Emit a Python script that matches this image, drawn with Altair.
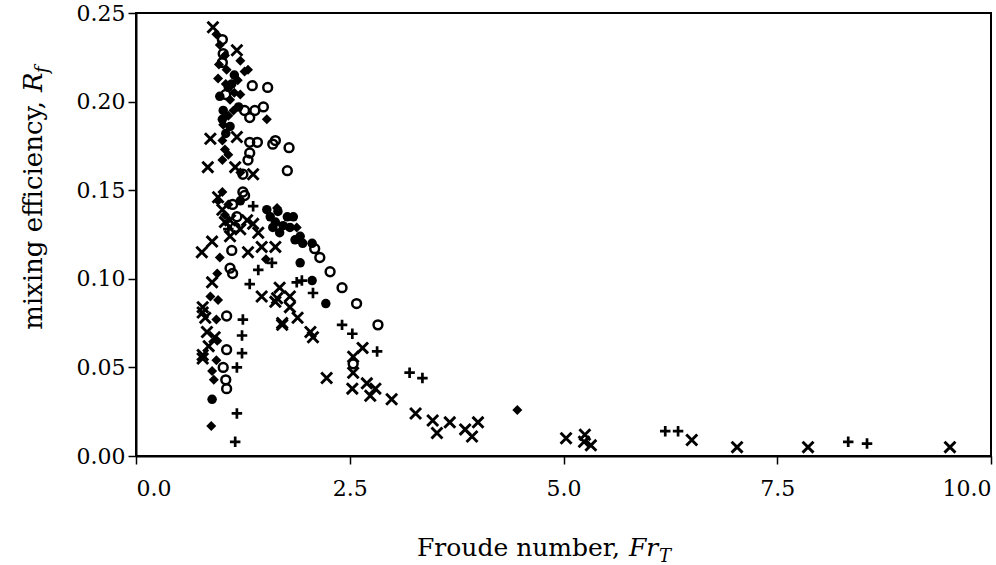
import altair as alt
import pandas as pd

# ---- data ----
cross_x = [0.90, 1.18, 0.87, 1.18, 0.84, 1.16, 1.37, 1.01, 0.96, 1.10, 1.30, 1.37, 1.43,
           0.89, 1.10, 0.77, 1.31, 1.47, 1.63, 0.89, 1.47, 1.63, 1.68, 0.78, 0.81, 1.80,
           1.89, 1.71, 0.83, 0.92, 0.78, 0.85, 0.78, 2.04, 2.07, 2.23, 2.65, 2.54, 2.54,
           2.53, 2.70, 2.80, 2.74, 2.99, 3.27, 3.47, 3.52, 3.67, 3.85, 3.93, 4.00, 5.03,
           5.25, 5.24, 5.32, 6.50, 7.03, 7.86, 9.52, 0.78, 1.04, 1.22, 1.65, 1.80, 1.71]
cross_y = [0.242, 0.229, 0.179, 0.180, 0.163, 0.163, 0.159, 0.139, 0.146, 0.133, 0.133, 0.131, 0.126,
           0.121, 0.124, 0.115, 0.115, 0.118, 0.118, 0.098, 0.090, 0.087, 0.095, 0.084, 0.078, 0.084,
           0.078, 0.074, 0.070, 0.067, 0.057, 0.062, 0.055, 0.070, 0.067, 0.044, 0.061, 0.056, 0.047,
           0.038, 0.041, 0.038, 0.034, 0.032, 0.024, 0.020, 0.013, 0.019, 0.015, 0.011, 0.019, 0.010,
           0.012, 0.008, 0.006, 0.009, 0.005, 0.005, 0.005, 0.081, 0.132, 0.128, 0.089, 0.090, 0.075]

plus_x = [1.37, 1.59, 1.43, 1.33, 1.25, 1.24, 1.24, 1.18, 1.18, 1.16, 1.88, 2.07, 2.41,
          2.53, 2.82, 3.20, 3.35, 6.19, 6.34, 8.33, 8.55, 1.08, 1.94]
plus_y = [0.141, 0.109, 0.105, 0.097, 0.077, 0.068, 0.058, 0.050, 0.024, 0.008, 0.098, 0.092, 0.074,
          0.069, 0.059, 0.047, 0.044, 0.014, 0.014, 0.008, 0.007, 0.128, 0.099]

ring_x = [1.36, 1.54, 1.49, 1.39, 1.27, 1.33, 1.33, 1.42, 1.63, 1.60, 1.79, 1.31, 1.77, 1.25,
          1.33, 1.25, 1.13, 1.18, 1.12, 1.10, 1.13, 1.06, 1.06, 1.02, 1.05, 1.06, 2.15, 2.27,
          2.41, 2.58, 2.83, 2.54, 2.09, 1.01, 1.02, 1.01, 1.05, 1.27, 1.16]
ring_y = [0.209, 0.208, 0.197, 0.195, 0.195, 0.191, 0.177, 0.177, 0.178, 0.176, 0.174, 0.167, 0.161, 0.159,
          0.171, 0.149, 0.142, 0.135, 0.116, 0.106, 0.103, 0.079, 0.060, 0.050, 0.043, 0.038, 0.112, 0.104,
          0.095, 0.086, 0.074, 0.052, 0.117, 0.235, 0.227, 0.222, 0.204, 0.147, 0.129]

dot_x = [1.92, 2.22, 2.06, 1.02, 1.01, 0.98, 1.08, 1.15, 1.57, 1.60, 1.68, 1.77, 1.84, 1.92,
         1.95, 2.06, 1.63, 1.72, 1.53, 1.80, 1.86, 1.66, 0.89, 1.22, 1.12, 1.05, 1.10, 1.20]
dot_y = [0.109, 0.086, 0.099, 0.195, 0.190, 0.203, 0.208, 0.215, 0.135, 0.129, 0.126, 0.135, 0.135, 0.124,
         0.120, 0.120, 0.132, 0.130, 0.139, 0.129, 0.122, 0.138, 0.032, 0.144, 0.210, 0.182, 0.186, 0.197]

diam_x = [0.94, 0.98, 1.04, 0.97, 1.06, 1.22, 1.27, 1.19, 1.10, 1.22, 1.08, 1.02, 1.01, 1.04,
          1.01, 1.08, 1.53, 1.22, 0.96, 1.31, 1.01, 0.96, 1.65, 1.88, 0.98, 0.95, 0.87, 0.96,
          0.94, 0.95, 0.94, 0.89, 0.91, 0.88, 4.46, 1.04, 1.52, 1.08, 1.15, 1.05, 1.14]
diam_y = [0.238, 0.232, 0.226, 0.221, 0.218, 0.223, 0.217, 0.212, 0.201, 0.204, 0.192, 0.187, 0.178, 0.173,
          0.167, 0.170, 0.190, 0.160, 0.213, 0.218, 0.149, 0.144, 0.140, 0.129, 0.112, 0.103, 0.090, 0.088,
          0.077, 0.065, 0.054, 0.048, 0.043, 0.017, 0.026, 0.136, 0.111, 0.142, 0.205, 0.210, 0.195]

x_ticks = [0.0, 2.5, 5.0, 7.5, 10.0]
y_ticks = [0.00, 0.05, 0.10, 0.15, 0.20, 0.25]

FONT = "DejaVu Serif"
W, H = 855, 443

xs = alt.Scale(domain=[0, 10], nice=False)
ys = alt.Scale(domain=[0, 0.25], nice=False)

xaxis = alt.Axis(values=x_ticks, format=".1f", title=None, grid=False, labelPadding=14)
yaxis = alt.Axis(values=y_ticks, format=".2f", title=None, grid=False, labelPadding=3)


def layer(xv, yv, **mark):
    df = pd.DataFrame({"x": xv, "y": yv})
    return alt.Chart(df).mark_point(opacity=1, **mark).encode(
        x=alt.X("x:Q", scale=xs, axis=xaxis),
        y=alt.Y("y:Q", scale=ys, axis=yaxis),
    )


crosses = layer(cross_x, cross_y, shape="M-1,-1L1,1M-1,1L1,-1", filled=False,
                stroke="black", strokeWidth=2.9, size=120)
pluses = layer(plus_x, plus_y, shape="M-1,0L1,0M0,-1L0,1", filled=False,
               stroke="black", strokeWidth=2.7, size=110)
rings = layer(ring_x, ring_y, shape="circle", filled=False,
              stroke="black", strokeWidth=2.5, size=78)
dots = layer(dot_x, dot_y, shape="circle", filled=True, fill="black", size=90)
diams = layer(diam_x, diam_y, shape="diamond", filled=True, fill="black", size=100)


def label(txt, x, y, size=25, style="normal", angle=0, align="left", baseline="alphabetic"):
    return alt.Chart(pd.DataFrame({"t": [txt]})).mark_text(
        font=FONT, fontSize=size, fontStyle=style, angle=angle, align=align,
        baseline=baseline, color="black"
    ).encode(x=alt.value(x), y=alt.value(y), text="t:N")


# x title: "Froude number, Fr_T"  (plot-area pixel anchors)
xt_anchor = 484
xt_base = 543
x_title = [
    label("Froude number,", xt_anchor, xt_base, align="right"),
    label("Fr", xt_anchor + 9, xt_base, style="italic"),
    label("T", xt_anchor + 39, xt_base + 6, size=18, style="italic"),
]
# y title: "mixing efficiency, R_f"
yt_anchor = 88
yt_base = -94
y_title = [
    label("mixing efficiency,", yt_base, yt_anchor, size=26, angle=270, align="right"),
    label("R", yt_base, yt_anchor - 9, size=26, angle=270, style="italic"),
    label("f", yt_base + 6, yt_anchor - 28, size=18, angle=270, style="italic"),
]

chart = alt.layer(crosses, pluses, rings, dots, diams, *x_title, *y_title).properties(
    width=W, height=H,
    padding={"left": 136, "top": 13, "right": 5, "bottom": 109},
    autosize="none",
    background="white",
).configure_view(
    stroke="black", strokeWidth=2
).configure_axis(
    domainColor="black", domainWidth=2, tickColor="black", tickWidth=1.5, tickSize=8,
    labelFont=FONT, labelFontSize=22, labelColor="black",
)

chart.save("out.html", embed_options={"renderer": "svg", "actions": False})
